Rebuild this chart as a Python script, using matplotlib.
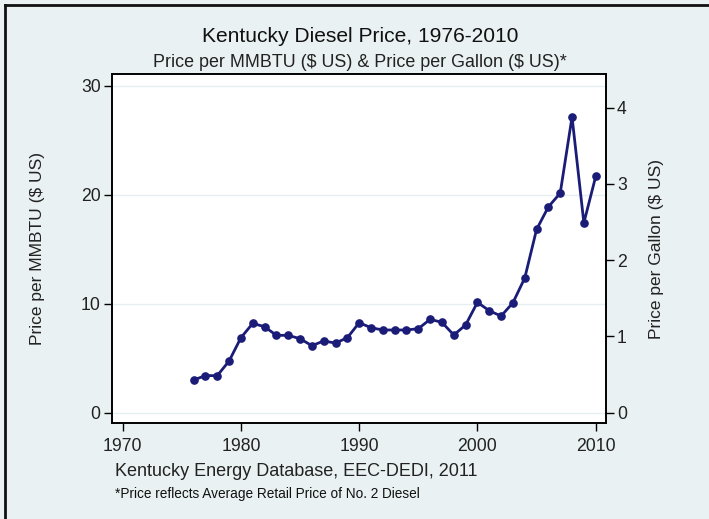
import matplotlib
matplotlib.use("Agg")
import matplotlib.pyplot as plt

years = list(range(1976, 2011))
price_mmbtu = [3.0, 3.4, 3.4, 4.74, 6.88, 8.2, 7.89, 7.1, 7.1, 6.79,
               6.15, 6.58, 6.39, 6.88, 8.26, 7.8, 7.59, 7.59, 7.59, 7.71,
               8.57, 8.29, 7.13, 8.05, 10.13, 9.36, 8.87, 10.09, 12.36, 16.82,
               18.9, 20.16, 27.16, 17.43, 21.69]
xticks = [1970, 1980, 1990, 2000, 2010]
yticks_left = [0, 10, 20, 30]
yticks_right = [0, 1, 2, 3, 4]
MMBTU_PER_GALLON_SCALE = 7.0

plt.rcParams['font.family'] = ['Liberation Sans', 'DejaVu Sans']

bg = '#eaf1f2'
line_col = '#1a1c78'
W, H = 709, 519

fig = plt.figure(figsize=(7.09, 5.19), dpi=100, facecolor=bg)
ax = fig.add_axes([0.1575, 0.185, 0.8547 - 0.1575, 0.8568 - 0.185])
ax.set_facecolor('white')

ax.plot(years, price_mmbtu, color=line_col, lw=2.0, marker='o', ms=5.2,
        markerfacecolor=line_col, markeredgecolor=line_col, zorder=3)

ax.set_xlim(1969.07, 2010.87)
ylim = (-0.95, 31.07)
ax.set_ylim(*ylim)
ax.set_xticks(xticks)
ax.set_yticks(yticks_left)
for v in yticks_left:
    ax.axhline(v, color='#e6eff0', lw=1.0, zorder=1)

for s in ax.spines.values():
    s.set_linewidth(1.2)
    s.set_color('black')

ax.tick_params(axis='both', direction='out', length=6, width=1.0,
               labelsize=12.7, pad=2, colors='black', labelcolor='#222222')
ax.tick_params(axis='x', pad=5)
ax.set_ylabel(r'Price per MMBTU (\$ US)', fontsize=12.5, color='#222222', labelpad=26)

ax2 = ax.twinx()
ax2.set_ylim(ylim[0] / MMBTU_PER_GALLON_SCALE, ylim[1] / MMBTU_PER_GALLON_SCALE)
ax2.set_yticks(yticks_right)
ax2.tick_params(axis='y', direction='out', length=6, width=1.0,
                labelsize=12.7, pad=2, labelcolor='#222222')
ax2.set_ylabel(r'Price per Gallon (\$ US)', fontsize=12.5, color='#222222', labelpad=16)
for s in ax2.spines.values():
    s.set_linewidth(1.2)

cx = 360 / W
fig.text(cx, 1 - 41.7 / H, 'Kentucky Diesel Price, 1976-2010', ha='center',
         va='baseline', fontsize=15.1, color='#111111')
fig.text(cx, 1 - 66.7 / H, r'Price per MMBTU (\$ US) & Price per Gallon (\$ US)*',
         ha='center', va='baseline', fontsize=12.9, color='#222222')
fig.text(115 / W, 1 - 476.5 / H, 'Kentucky Energy Database, EEC-DEDI, 2011',
         ha='left', va='baseline', fontsize=13, color='#222222')
fig.text(115 / W, 1 - 498.3 / H, '*Price reflects Average Retail Price of No. 2 Diesel',
         ha='left', va='baseline', fontsize=9.8, color='#111111')

# outer border lines (top and left)
fig.add_artist(plt.Line2D([5 / W, 1], [1 - 4.5 / H, 1 - 4.5 / H],
                          transform=fig.transFigure, color='#111111', lw=2))
fig.add_artist(plt.Line2D([5 / W, 5 / W], [0, 1 - 4.5 / H],
                          transform=fig.transFigure, color='#111111', lw=2))

fig.savefig('out.png', dpi=100, facecolor=bg)
